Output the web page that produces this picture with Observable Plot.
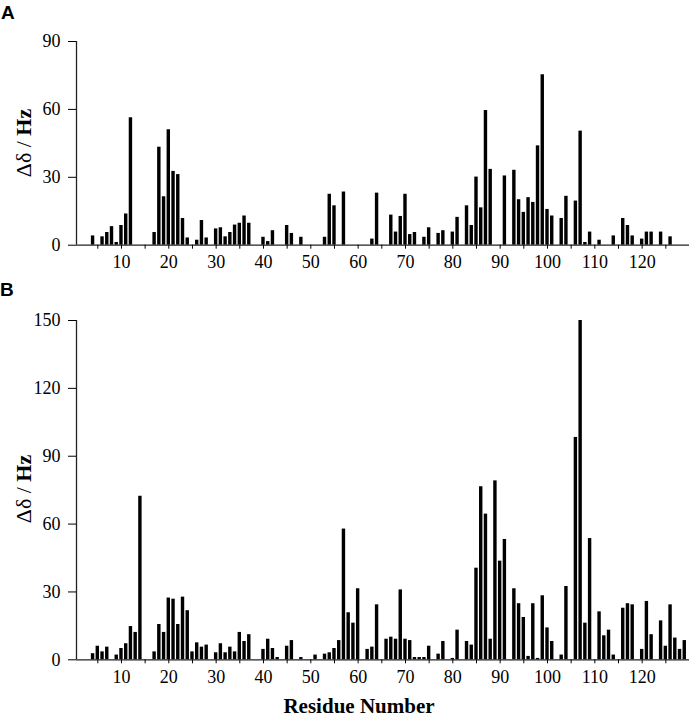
<!DOCTYPE html>
<html>
<head>
<meta charset="utf-8">
<script src="https://cdn.jsdelivr.net/npm/d3@7"></script>
<script src="https://cdn.jsdelivr.net/npm/@observablehq/plot@0.6"></script>
<style>
  html, body { margin: 0; padding: 0; background: #fff; }
  #wrap { position: relative; width: 690px; height: 719px; overflow: hidden; font-family: "Liberation Serif", "Times New Roman", serif; }
  .panel { position: absolute; left: 0; }
  .panel text, .panel g { font-family: "Liberation Serif", "Times New Roman", serif !important; }
  .plab { position: absolute; font-family: "Liberation Sans", Arial, sans-serif; font-weight: bold; font-size: 19px; line-height: 1; }
  .ylab { position: absolute; font-size: 22px; white-space: nowrap; transform: translate(-50%, -50%) rotate(-90deg); line-height: 1; }
  .xlab { position: absolute; font-size: 21px; font-weight: bold; white-space: nowrap; transform: translateX(-50%); line-height: 1; }
</style>
</head>
<body>
<div id="wrap"></div>
<script>
// Panel A
const residuesA = [4,6,7,8,9,10,11,12,17,18,19,20,21,22,23,24,26,27,28,30,31,32,33,34,35,36,37,40,41,42,45,46,48,53,54,55,57,63,64,67,68,69,70,71,72,74,75,77,78,80,81,83,84,85,86,87,88,91,93,94,95,96,97,98,99,100,101,103,104,106,107,108,109,111,114,116,117,118,120,121,122,124,126];
const shiftsA   = [4.1,3.7,5.6,8.2,1.2,8.7,13.8,56.3,5.6,43.3,21.4,51,32.6,31.2,11.8,3.2,2.2,10.9,3.2,7.2,7.7,3.7,5.6,8.9,9.7,12.9,9.7,3.5,1.6,6.4,8.7,5.2,3.5,3.5,22.5,17.4,23.5,2.7,23,13.3,5.8,12.7,22.5,4.7,5.6,3.5,7.7,5.2,6.4,5.8,12.3,17.4,8.7,30.1,16.5,59.5,33.5,30.6,33.1,20.1,14.5,21,18.9,43.9,75.3,15.8,12.9,11.8,21.6,19.5,50.4,1.2,5.8,2.2,4.1,11.8,8.7,4.1,2.7,5.8,5.8,5.8,3.7];
// Panel B
const residuesB = [4,5,6,7,9,10,11,12,13,14,17,18,19,20,21,22,23,24,25,26,27,28,30,31,32,33,34,35,36,37,40,41,42,43,45,46,48,51,53,54,55,56,57,58,59,60,62,63,64,66,67,68,69,70,71,72,73,74,75,77,78,80,81,83,84,85,86,87,88,89,90,91,93,94,95,96,97,98,99,100,101,103,104,106,107,108,109,111,112,113,114,116,117,118,120,121,122,124,125,126,127,128,129];
const shiftsB   = [2.7,6.0,3.5,5.6,2.1,5.0,7.1,14.7,12.1,72.3,3.5,15.6,12.1,27.3,26.8,15.6,27.7,21.7,3.5,7.5,5.6,6.5,3.1,7.1,3.1,5.6,3.5,12.1,8.1,11.1,4.6,9.1,5.0,1.0,6.0,8.5,1.0,2.1,2.5,3.1,5.0,8.5,57.8,20.8,16.2,31.4,4.6,5.6,24.3,9.1,10.0,9.1,30.9,9.1,8.5,1.0,1.0,1.0,6.0,2.5,8.1,0.6,13.1,8.1,6.5,40.5,76.5,64.4,9.1,79.1,43.6,53.2,31.4,24.8,18.7,1.5,24.8,0.6,28.3,14.1,8.1,2.1,32.4,98.3,150,16.2,53.6,21.2,10.6,13.1,2.1,22.8,24.8,24.3,4.6,25.8,11.1,17.2,6.0,24.3,9.6,4.6,8.5];

const xTicks = d3.range(5, 130, 5);
const xTickLabels = [10,20,30,40,50,60,70,80,90,100,110,120];
const yTicksA = [0,30,60,90];
const yTicksB = [0,30,60,90,120,150];
const xDomain = [0.5, 130];
const serif = "'Liberation Serif', 'Times New Roman', serif";

function panel(residues, shifts, yTicks, height, marginTop, marginBottom) {
  const data = residues.map((r, i) => ({r, v: shifts[i]}));
  const yMax = yTicks[yTicks.length - 1];
  return Plot.plot({
    width: 690,
    height,
    marginLeft: 76,
    marginRight: 1,
    marginTop,
    marginBottom,
    style: {fontFamily: serif, fontSize: "18px", color: "#000", background: "#fff"},
    x: {domain: xDomain},
    y: {domain: [0, yMax]},
    marks: [
      Plot.rectY(data, {x1: d => d.r - 0.36, x2: d => d.r + 0.36, y: "v", fill: "#000"}),
      Plot.ruleY([0], {stroke: "#222", strokeWidth: 1.3}),
      Plot.ruleX([xDomain[0]], {y1: 0, y2: yMax, stroke: "#222", strokeWidth: 1.3}),
      Plot.axisY({ticks: yTicks, tickSize: 8, tickPadding: 8, label: null, fontSize: 18, fontFamily: serif}),
      Plot.axisX({ticks: xTicks, tickSize: 4, tickPadding: 6, label: null, fontSize: 18, fontFamily: serif,
                  tickFormat: d => xTickLabels.includes(d) ? String(d) : ""})
    ]
  });
}

const wrap = document.getElementById("wrap");

const a = panel(residuesA, shiftsA, yTicksA, 285, 41, 285 - 244.7);
a.classList.add("panel"); a.style.top = "0px";
wrap.appendChild(a);

const b = panel(residuesB, shiftsB, yTicksB, 400, 30, 400 - 369.3);
b.classList.add("panel"); b.style.top = "290px";
wrap.appendChild(b);

function addDiv(cls, html, left, top) {
  const d = document.createElement("div");
  d.className = cls; d.innerHTML = html;
  d.style.left = left + "px"; d.style.top = top + "px";
  wrap.appendChild(d);
}
addDiv("plab", "A", 1, 3);
addDiv("plab", "B", 0, 280);
addDiv("ylab", "Δδ / <b>Hz</b>", 24, 143);
addDiv("ylab", "Δδ / <b>Hz</b>", 24, 489);
addDiv("xlab", "Residue Number", 359, 696);
</script>
</body>
</html>
